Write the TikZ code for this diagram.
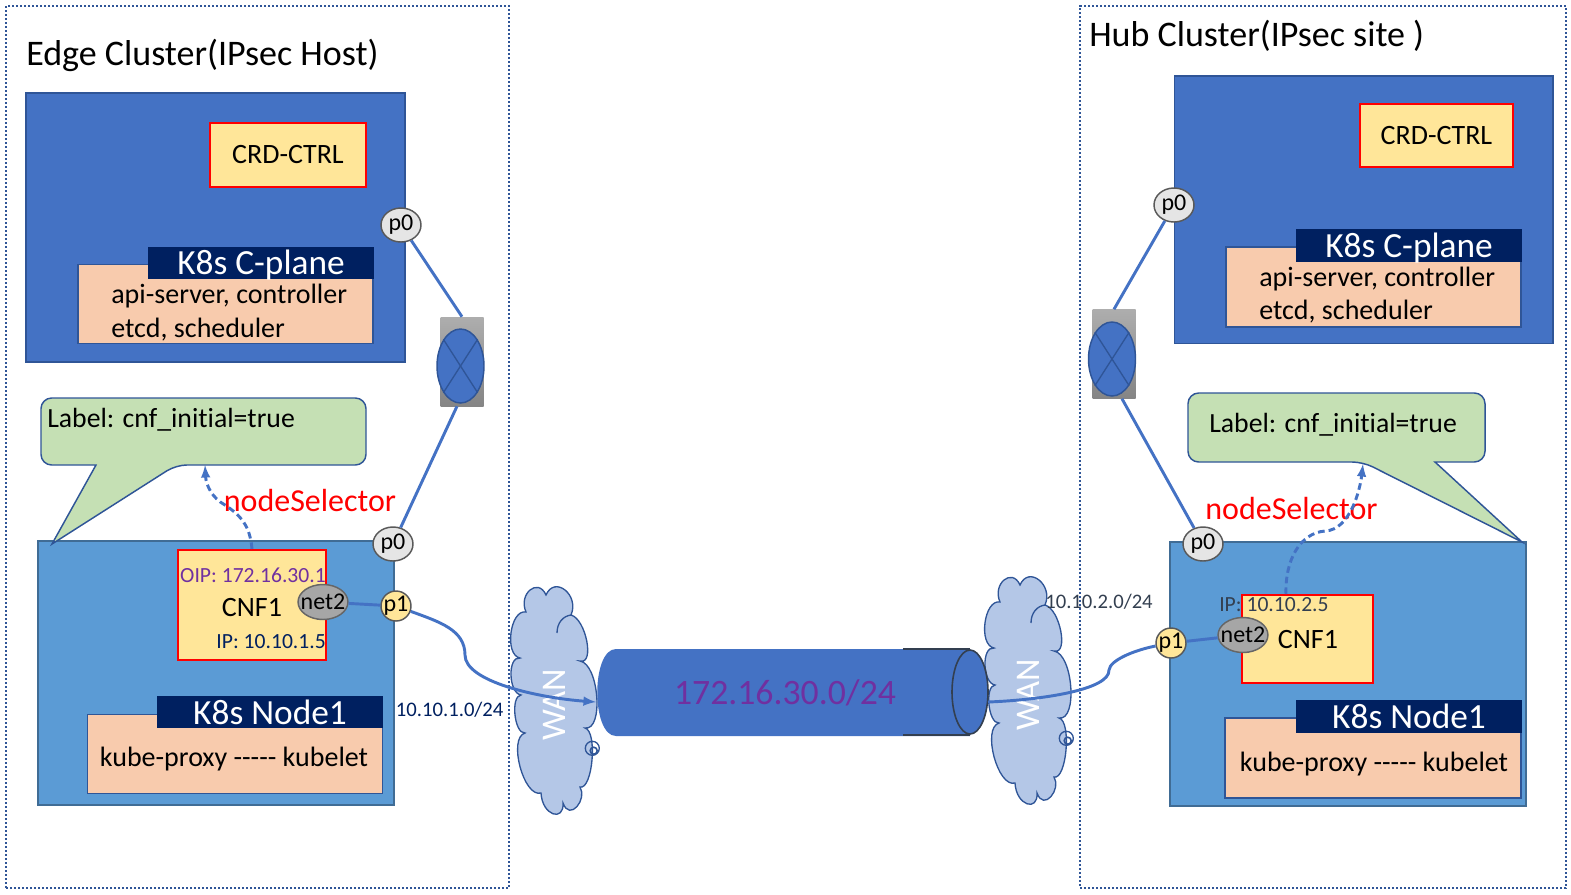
\documentclass[tikz,border=0pt]{standalone}
\usepackage{xcolor}
\usepackage{fontspec}
\setmainfont{Carlito}[Ligatures={TeX,NoCommon}]
\usetikzlibrary{shapes,arrows,positioning}
\definecolor{planeblue}{HTML}{4472C4}
\definecolor{nodeblue}{HTML}{5B9BD5}
\definecolor{edgeblue}{HTML}{2F5597}
\definecolor{navy}{HTML}{002060}
\definecolor{peach}{HTML}{F8CBAD}
\definecolor{sand}{HTML}{FFE699}
\definecolor{leaf}{HTML}{C5E0B4}
\definecolor{sky}{HTML}{B4C7E7}
\definecolor{plum}{HTML}{7030A0}
\definecolor{slate}{HTML}{333F50}
\newcommand{\sz}[1]{\fontsize{#1}{#1}\selectfont}
\newcommand{\dashes}{-\kern0pt-\kern0pt-\kern0pt-\kern0pt-}
\def\px{0.75pt}

\begin{document}
\begin{tikzpicture}[x=0.75pt, y=-0.75pt, inner sep=0pt]
\useasboundingbox (0,0) rectangle (1571,894);
% Define styles
\tikzstyle{site} = [rectangle, draw=edgeblue, line width=1.5pt, dash pattern=on 1.5pt off 1.5pt]
\tikzstyle{cplane} = [rectangle, draw=edgeblue, fill=planeblue, line width=1.1pt]
\tikzstyle{worker} = [rectangle, draw=nodeblue!70!black, fill=nodeblue, line width=1.1pt]
\tikzstyle{app} = [rectangle, draw=red, fill=sand, line width=1.5pt, font=\sz{21}]
\tikzstyle{banner} = [rectangle, fill=navy, text=white, font=\sz{26.5}, text depth=0pt]
\tikzstyle{service} = [rectangle, draw=edgeblue, fill=peach, line width=1.1pt]
\tikzstyle{body} = [font=\fontsize{21}{25}\selectfont, align=left]
\tikzstyle{title} = [font=\sz{27}, anchor=west]
\tikzstyle{selector} = [font=\sz{24}, text=red]
\tikzstyle{port} = [ellipse, draw=black!65, fill=black!10, line width=1.1pt, font=\sz{18}, inner xsep=-1pt, minimum width=40*\px, minimum height=34*\px]
\tikzstyle{portx} = [circle, draw=black!65, fill=sand, line width=1.1pt, font=\sz{18}, inner sep=-1pt, minimum size=30*\px]
\tikzstyle{iface} = [ellipse, draw=black!60, fill=black!35, line width=1.1pt, font=\sz{18}, inner xsep=-3.5pt, minimum width=47*\px, minimum height=35*\px]
\tikzstyle{switchbg} = [rectangle, top color=black!32, bottom color=black!48, minimum width=43*\px, minimum height=89*\px]
\tikzstyle{switchfg} = [ellipse, draw=edgeblue, fill=planeblue, line width=1.1pt, minimum width=47*\px, minimum height=74*\px]
\tikzstyle{note} = [draw=edgeblue, fill=leaf, line width=1.1pt]
\tikzstyle{link} = [draw=planeblue, line width=2.2pt]
\tikzstyle{arrow} = [link, ->, >=latex]
\tikzstyle{dasharrow} = [arrow, dash pattern=on 5pt off 3pt]
\tikzset{pics/wancloud/.style={code={
  \draw [draw=edgeblue, fill=sky, line width=1pt] (-7,10)
    .. controls (1.7,-10) and (26.7,10) .. (18,30)
    .. controls (33,34) and (42,80) .. (27,76)
    .. controls (46,79) and (51,146) .. (32,143)
    .. controls (44.7,146) and (39.7,205) .. (27,202)
    .. controls (34.7,214) and (16.7,237) .. (10,218)
    .. controls (11.3,237) and (-10.7,231) .. (-12,208)
    .. controls (-29.3,213) and (-45.3,153) .. (-28,148)
    .. controls (-38.7,149) and (-42.7,111) .. (-32,110)
    .. controls (-44.7,108) and (-45.7,71) .. (-33,73)
    .. controls (-49,70) and (-43,24) .. (-27,27)
    .. controls (-35,9) and (-15,-8) .. cycle;
  \draw [draw=edgeblue, line width=1pt] (18,30) .. controls (10,31) and (4,38) .. (4,48);
  \draw [draw=edgeblue, line width=1pt] (39.3,163.3) circle (7);
  \draw [draw=edgeblue, line width=1.2pt] (40.7,165.7) circle (3.5);
  \node (-label) [text=white, font=\sz{26}, rotate=90] at (1.7,120) {WAN};
}}}

% Place nodes
\node (edgesite) [site, minimum width=503*\px, minimum height=881.7*\px] at (257.5,446.8) {};
\node (hubsite) [site, minimum width=486*\px, minimum height=881.7*\px] at (1323,446.8) {};
\node (edgetitle) [title] at (26,55) {Edge Cluster(IPsec Host)};
\node (hubtitle) [title] at (1089,36) {Hub Cluster(IPsec site )};

% edge cluster control plane
\node (planel) [cplane, minimum width=379*\px, minimum height=269*\px] at (215.5,227.5) {};
\node (crdl) [app, minimum width=156*\px, minimum height=64*\px] at (288,154.5) {CRD-CTRL};
\node (svcl) [service, minimum width=295*\px, minimum height=79.5*\px] at (225.5,304) {};
\node (bannerl) [banner, minimum width=226*\px, minimum height=32*\px] at (261,262.5) {K8s C-plane};
\node (apil) [body, anchor=west] at (111,312.5) {api-server, controller\\etcd, scheduler};

% hub cluster control plane
\node (planer) [cplane, minimum width=378.5*\px, minimum height=267.5*\px] at (1363.75,209.75) {};
\node (crdr) [app, minimum width=153.5*\px, minimum height=63*\px] at (1436.5,135.5) {CRD-CTRL};
\node (svcr) [service, minimum width=295*\px, minimum height=80*\px] at (1373.5,287) {};
\node (bannerr) [banner, minimum width=226*\px, minimum height=33*\px] at (1409,245) {K8s C-plane};
\node (apir) [body, anchor=west] at (1259,295) {api-server, controller\\etcd, scheduler};

% edge cluster worker
\node (workerl) [worker, minimum width=356*\px, minimum height=264*\px] at (215.8,672.8) {};
\node (cnfl) [app, minimum width=148*\px, minimum height=110*\px] at (252,605) {};
\node (cnfnamel) [font=\sz{21}] at (252,607) {CNF1};
\node (oipl) [font=\sz{16.2}, text=plum, anchor=east] at (326,575) {OIP: 172.16.30.1};
\node (ipl) [font=\sz{16.2}, text=navy, anchor=east] at (326,642) {IP: 10.10.1.5};
\node (netl) [iface] at (323,602) {net2};
\node (knodel) [service, minimum width=295.5*\px, minimum height=79.5*\px] at (235,754) {};
\node (kbannerl) [banner, minimum width=226*\px, minimum height=32*\px] at (270,712.3) {K8s Node1};
\node (proxyl) [font=\sz{21}] at (234,759.5) {kube-proxy \dashes{} kubelet};
\node (p0l) [port] at (393,544) {p0};
\node (p1l) [portx] at (396,606) {p1};
\node (subnetl) [font=\sz{15.5}, text=navy] at (449.7,710) {10.10.1.0/24};
\node (selectl) [selector] at (310,500) {nodeSelector};

% hub cluster worker
\node (workerr) [worker, minimum width=356*\px, minimum height=264*\px] at (1348,674) {};
\node (cnfr) [app, minimum width=131*\px, minimum height=88*\px] at (1307.3,639) {};
\node (cnfnamer) [font=\sz{21}] at (1308,639) {CNF1};
\node (ipr) [font=\sz{16.2}, text=slate, anchor=west] at (1219,605) {IP: 10.10.2.5};
\node (netr) [iface] at (1243,635) {net2};
\node (knoder) [service, minimum width=296*\px, minimum height=80*\px] at (1373,758) {};
\node (kbannerr) [banner, minimum width=226*\px, minimum height=33*\px] at (1409,716) {K8s Node1};
\node (proxyr) [font=\sz{21}] at (1374,764) {kube-proxy \dashes{} kubelet};
\node (p0r) [port] at (1203,544) {p0};
\node (p1r) [portx] at (1171,643) {p1};
\node (selectr) [selector] at (1291.5,508) {nodeSelector};

% callouts
\draw [note, rounded corners=8pt] (176,465) [sharp corners] -- (52,544) -- (96,465) [rounded corners=8pt] -- (41,465) -- (41,398) -- (366,398) -- (366,465) -- cycle;
\node (labell) [font=\sz{20.8}, anchor=west] at (47,420) {Label: cnf\_initial=true};
\draw [note, rounded corners=8pt] (1363,462) [sharp corners] -- (1522,542) -- (1435,462) [rounded corners=8pt] -- (1485,462) -- (1485,393) -- (1188,393) -- (1188,462) -- cycle;
\node (labelr) [font=\sz{20.8}, anchor=west] at (1209,425) {Label: cnf\_initial=true};

% switches
\node (p0la) [port] at (401,225) {p0};
\node (swbgl) [switchbg] at (462,361.5) {};
\node (swl) [switchfg] at (460.5,366) {};
\node (p0ra) [port] at (1174,205) {p0};
\node (swbgr) [switchbg] at (1114,354) {};
\node (swr) [switchfg] at (1112,359) {};

% wan
\pic (cloudl) at (553,585) {wancloud};
\pic (cloudr) at (1027,575) {wancloud};
\fill [planeblue] (970,649) -- (616,649) .. controls (591,649) and (591,736) .. (616,736) -- (970,736) -- cycle;
\node (tubeend) [ellipse, draw=slate, fill=planeblue, line width=1.2pt, minimum width=36*\px, minimum height=84*\px] at (970,692) {};
\node (tubelabel) [font=\sz{26.8}, text=plum] at (785,693) {172.16.30.0/24};
\node (subnetr) [font=\sz{15.5}, text=slate] at (1099,602) {10.10.2.0/24};
\coordinate (tubein) at (596,702);
\coordinate (tubeout) at (988,702);
\coordinate (selhitl) at (205,465);
\coordinate (selhitr) at (1363,464);

% Draw arrows
\draw [edgeblue, line width=1pt] (swl.north west) -- (swl.south east);
\draw [edgeblue, line width=1pt] (swl.north east) -- (swl.south west);
\draw [edgeblue, line width=1pt] (swr.north west) -- (swr.south east);
\draw [edgeblue, line width=1pt] (swr.north east) -- (swr.south west);
\draw [slate, line width=1.2pt] (tubeend.north) -- ++(-67,0);
\draw [slate, line width=1.2pt] (tubeend.south) -- ++(-67,0);
\draw [link] (p0la) -- (swbgl.north);
\draw [link] ([xshift=-3.75pt]swbgl.south) -- (p0l);
\draw [link] (p0ra) -- (swbgr.north);
\draw [link] ([xshift=6pt]swbgr.south) -- (p0r);
\draw [link] (netl) -- (p1l);
\draw [link] (p1r) -- (netr);
\draw [arrow] (p1l) .. controls (440,622) and (465,630) .. (465,655) .. controls (465,682) and (540,698) .. (tubein);
\draw [link] (tubeout) .. controls (1040,700) and (1110,690) .. (1109,670) .. controls (1110,660) and (1135,650) .. (p1r);
\draw [dasharrow] (cnfl.north) .. controls (250,525) and (240,515) .. (225,505) .. controls (212,498) and (206,485) .. (selhitl);
\draw [dasharrow] ([xshift=-16pt]cnfr.north) .. controls (1285,560) and (1300,533) .. (1325,531) .. controls (1350,530) and (1360,490) .. (selhitr);
\end{tikzpicture}
\end{document}
